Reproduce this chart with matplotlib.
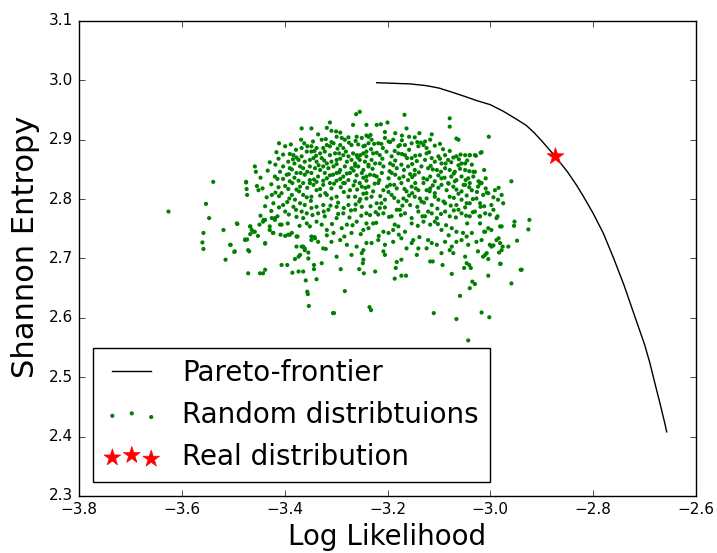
import numpy as np
import matplotlib
matplotlib.use("Agg")
import matplotlib.pyplot as plt

plt.style.use('classic')

# pareto frontier (log likelihood, entropy)
front_ll = [-3.221, -3.156, -3.124, -3.10, -3.078, -3.05, -3.027, -3.0, -2.975, -2.95, -2.93, -2.915, -2.90, -2.875,
            -2.85, -2.832, -2.82, -2.80, -2.78, -2.76, -2.74, -2.72, -2.70, -2.69, -2.68, -2.67, -2.66, -2.657]
front_ent = [2.996, 2.994, 2.991, 2.987, 2.981, 2.973, 2.966, 2.959, 2.948, 2.935, 2.924, 2.912, 2.898, 2.873,
             2.846, 2.823, 2.806, 2.776, 2.742, 2.700, 2.655, 2.605, 2.555, 2.525, 2.490, 2.456, 2.420, 2.408]

# the real distribution
real_ll = [-2.875]
real_ent = [2.873]

upper_pts = [
    (-3.261,2.943),(-3.254,2.947),(-3.312,2.929),(-3.267,2.925),(-3.367,2.919),(-3.348,2.919),(-3.318,2.920),(-3.309,2.915),(-3.300,2.914),(-3.241,2.925),
    (-3.368,2.900),(-3.328,2.900),(-3.320,2.901),(-3.309,2.896),(-3.299,2.905),(-3.289,2.903),(-3.283,2.900),(-3.276,2.904),(-3.260,2.905),(-3.250,2.903),(-3.241,2.907),
    (-3.411,2.894),(-3.399,2.889),(-3.367,2.886),(-3.356,2.889),(-3.348,2.889),(-3.338,2.886),(-3.325,2.886),(-3.312,2.889),(-3.292,2.891),(-3.286,2.886),(-3.270,2.891),(-3.257,2.892),(-3.247,2.889),(-3.237,2.894),
    (-3.416,2.879),(-3.390,2.876),(-3.383,2.874),(-3.377,2.870),(-3.367,2.872),(-3.357,2.880),(-3.348,2.880),(-3.331,2.877),(-3.322,2.880),(-3.312,2.874),(-3.302,2.877),(-3.286,2.874),(-3.276,2.872),(-3.267,2.877),(-3.260,2.874),(-3.247,2.877),(-3.241,2.872),
    (-3.412,2.868),(-3.393,2.863),(-3.373,2.866),(-3.361,2.863),(-3.351,2.866),(-3.338,2.863),(-3.328,2.869),(-3.318,2.860),(-3.309,2.863),(-3.299,2.866),(-3.279,2.863),(-3.270,2.866),(-3.263,2.860),(-3.254,2.866),(-3.244,2.863),
    (-3.429,2.862),(-3.458,2.855),(-3.403,2.855),(-3.390,2.852),(-3.370,2.855),(-3.364,2.852),(-3.351,2.855),(-3.341,2.852),(-3.325,2.855),(-3.315,2.852),(-3.305,2.855),(-3.292,2.849),(-3.283,2.855),(-3.270,2.852),(-3.257,2.855),(-3.247,2.849),(-3.237,2.855),
    (-3.456,2.846),(-3.409,2.846),(-3.396,2.841),(-3.377,2.844),(-3.361,2.841),(-3.348,2.844),(-3.335,2.838),(-3.322,2.844),(-3.312,2.840),(-3.299,2.844),(-3.286,2.838),(-3.273,2.844),(-3.260,2.840),(-3.250,2.844),(-3.241,2.838),
    (-3.447,2.836),(-3.419,2.838),(-3.403,2.834),(-3.390,2.830),(-3.373,2.831),(-3.364,2.827),(-3.351,2.832),(-3.338,2.829),(-3.325,2.831),(-3.312,2.827),(-3.299,2.831),(-3.286,2.827),(-3.276,2.832),(-3.263,2.830),(-3.254,2.827),(-3.241,2.831),(-3.475,2.829),
    (-3.167,2.942),(-3.079,2.936),(-3.079,2.922),(-3.003,2.905),(-3.221,2.925),(-3.213,2.926),(-3.200,2.929),(-3.163,2.919),(-3.185,2.911),(-3.158,2.905),(-3.147,2.904),(-3.114,2.909),(-3.127,2.897),(-3.117,2.900),(-3.066,2.902),(-3.062,2.900),
    (-3.237,2.905),(-3.231,2.900),(-3.218,2.894),(-3.205,2.903),(-3.198,2.897),(-3.189,2.900),(-3.179,2.889),(-3.166,2.891),(-3.153,2.894),(-3.140,2.889),(-3.130,2.891),(-3.124,2.886),(-3.101,2.872),(-3.088,2.874),(-3.072,2.870),(-3.066,2.872),(-3.049,2.874),(-3.040,2.874),(-3.030,2.874),(-3.017,2.879),
    (-3.241,2.880),(-3.228,2.877),(-3.215,2.874),(-3.202,2.880),(-3.192,2.872),(-3.179,2.877),(-3.166,2.874),(-3.153,2.869),(-3.137,2.874),(-3.127,2.866),(-3.114,2.869),(-3.108,2.863),(-3.095,2.860),(-3.082,2.866),(-3.056,2.860),(-3.036,2.858),
    (-3.237,2.858),(-3.224,2.860),(-3.208,2.855),(-3.195,2.860),(-3.182,2.852),(-3.173,2.858),(-3.160,2.855),(-3.147,2.849),(-3.134,2.855),(-3.121,2.852),(-3.104,2.849),(-3.088,2.852),(-3.079,2.849),(-3.069,2.846),(-3.049,2.849),(-3.030,2.846),
    (-3.234,2.841),(-3.221,2.838),(-3.211,2.844),(-3.198,2.835),(-3.185,2.841),(-3.169,2.838),(-3.160,2.832),(-3.147,2.841),(-3.130,2.835),(-3.117,2.838),(-3.108,2.830),(-3.095,2.835),(-3.082,2.827),(-3.066,2.832),(-3.056,2.838),(-3.043,2.835),(-3.033,2.838),(-3.020,2.828),(-3.040,2.827),(-3.069,2.830),
]

lower_pts = [
    (-3.475,2.828),(-3.454,2.822),(-3.474,2.817),(-3.451,2.815),(-3.473,2.807),(-3.425,2.807),(-3.406,2.810),(-3.399,2.822),(-3.393,2.817),(-3.386,2.807),(-3.380,2.799),(-3.370,2.821),(-3.364,2.807),(-3.351,2.827),(-3.348,2.804),(-3.338,2.815),(-3.325,2.824),(-3.318,2.807),(-3.309,2.818),(-3.299,2.804),(-3.283,2.827),(-3.273,2.815),(-3.263,2.804),(-3.250,2.821),(-3.241,2.810),
    (-3.422,2.793),(-3.403,2.790),(-3.399,2.779),(-3.383,2.787),(-3.370,2.793),(-3.367,2.779),(-3.357,2.776),(-3.348,2.785),(-3.335,2.776),(-3.325,2.790),(-3.315,2.782),(-3.299,2.787),(-3.286,2.776),(-3.276,2.790),(-3.263,2.782),(-3.250,2.787),(-3.241,2.776),
    (-3.493,2.759),(-3.467,2.754),(-3.461,2.745),(-3.441,2.765),(-3.425,2.768),(-3.419,2.765),(-3.409,2.757),(-3.429,2.748),(-3.422,2.743),(-3.393,2.740),(-3.386,2.743),(-3.377,2.737),(-3.364,2.768),(-3.357,2.759),(-3.351,2.754),(-3.338,2.762),(-3.328,2.757),(-3.318,2.748),(-3.305,2.743),(-3.299,2.768),(-3.289,2.751),(-3.279,2.757),(-3.270,2.743),(-3.260,2.762),(-3.247,2.748),(-3.241,2.759),
    (-3.506,2.723),(-3.497,2.712),(-3.477,2.731),(-3.471,2.714),(-3.438,2.726),(-3.377,2.720),(-3.367,2.720),(-3.361,2.714),(-3.348,2.731),(-3.335,2.728),(-3.325,2.717),(-3.309,2.728),(-3.292,2.731),(-3.279,2.723),(-3.260,2.720),(-3.247,2.714),(-3.241,2.726),
    (-3.373,2.703),(-3.354,2.700),(-3.299,2.703),(-3.270,2.706),(-3.250,2.709),
    (-3.237,2.821),(-3.228,2.813),(-3.218,2.827),(-3.208,2.815),(-3.195,2.824),(-3.182,2.818),(-3.173,2.827),(-3.163,2.813),(-3.153,2.821),(-3.140,2.815),(-3.130,2.827),(-3.117,2.818),(-3.108,2.810),(-3.095,2.824),(-3.085,2.815),(-3.072,2.821),(-3.056,2.813),(-3.049,2.824),(-3.036,2.815),(-3.024,2.821),(-3.017,2.827),(-3.004,2.810),(-2.991,2.815),(-2.978,2.807),
    (-3.241,2.801),(-3.231,2.804),(-3.221,2.793),(-3.205,2.799),(-3.192,2.807),(-3.179,2.796),(-3.169,2.801),(-3.156,2.790),(-3.147,2.804),(-3.134,2.796),(-3.124,2.801),(-3.114,2.790),(-3.101,2.799),(-3.088,2.793),(-3.079,2.804),(-3.066,2.790),(-3.056,2.799),(-3.040,2.793),(-3.027,2.801),(-3.014,2.807),(-2.998,2.790),(-2.985,2.799),(-2.975,2.793),
    (-3.234,2.773),(-3.215,2.785),(-3.208,2.776),(-3.192,2.771),(-3.182,2.782),(-3.166,2.776),(-3.153,2.768),(-3.140,2.779),(-3.127,2.771),(-3.114,2.776),(-3.104,2.768),(-3.088,2.779),(-3.079,2.771),(-3.062,2.782),(-3.056,2.776),(-3.040,2.771),(-3.030,2.779),(-3.020,2.771),(-3.010,2.776),(-2.988,2.768),
    (-3.237,2.751),(-3.228,2.759),(-3.208,2.745),(-3.198,2.743),(-3.189,2.748),(-3.179,2.754),(-3.166,2.745),(-3.153,2.759),(-3.130,2.762),(-3.117,2.757),(-3.108,2.762),(-3.095,2.748),(-3.075,2.751),(-3.066,2.745),(-3.053,2.743),(-3.036,2.743),(-3.020,2.759),(-3.010,2.745),(-2.998,2.748),(-2.978,2.754),
    (-3.231,2.726),(-3.218,2.731),(-3.205,2.723),(-3.189,2.728),(-3.173,2.734),(-3.153,2.726),(-3.150,2.731),(-3.140,2.717),(-3.121,2.731),(-3.114,2.726),(-3.104,2.723),(-3.088,2.728),(-3.075,2.720),(-3.066,2.728),(-3.056,2.731),(-3.043,2.723),(-3.027,2.728),(-3.017,2.731),(-3.001,2.723),(-2.988,2.731),(-2.981,2.726),
    (-3.208,2.712),(-3.205,2.706),(-3.163,2.717),(-3.143,2.706),(-3.124,2.717),(-3.095,2.709),(-3.079,2.714),(-3.072,2.709),(-3.049,2.703),(-3.024,2.712),(-3.010,2.706),(-2.998,2.720),(-2.978,2.714),
]

# extra points filling the crowded core
core_pts = [
    (-3.345,2.897),(-3.305,2.894),(-3.262,2.898),(-3.226,2.893),(-3.195,2.896),(-3.172,2.899),(-3.135,2.895),(-3.098,2.893),
    (-3.378,2.883),(-3.342,2.881),(-3.297,2.885),(-3.281,2.880),(-3.232,2.884),(-3.209,2.886),(-3.186,2.881),(-3.158,2.883),(-3.119,2.879),(-3.092,2.884),(-3.079,2.881),
    (-3.384,2.867),(-3.344,2.869),(-3.323,2.865),(-3.292,2.868),(-3.258,2.870),(-3.231,2.866),(-3.210,2.868),(-3.185,2.865),(-3.162,2.869),(-3.143,2.864),(-3.098,2.868),(-3.076,2.862),(-3.061,2.867),(-3.045,2.865),
    (-3.433,2.848),(-3.386,2.850),(-3.356,2.846),(-3.331,2.849),(-3.294,2.845),(-3.266,2.848),(-3.229,2.851),(-3.196,2.847),(-3.168,2.849),(-3.139,2.845),(-3.112,2.850),(-3.096,2.846),(-3.059,2.851),(-3.041,2.847),(-3.012,2.849),
    (-3.414,2.834),(-3.381,2.836),(-3.343,2.833),(-3.318,2.835),(-3.292,2.834),(-3.247,2.836),(-3.216,2.832),(-3.177,2.835),(-3.152,2.837),(-3.123,2.833),(-3.089,2.836),(-3.076,2.838),(-3.048,2.832),(-3.009,2.835),
    (-3.443,2.818),(-3.412,2.820),(-3.377,2.816),(-3.356,2.819),(-3.331,2.817),(-3.291,2.820),(-3.259,2.816),(-3.243,2.819),(-3.201,2.821),(-3.167,2.817),(-3.145,2.818),(-3.124,2.815),(-3.101,2.819),(-3.066,2.816),(-3.041,2.820),(-3.009,2.818),
    (-3.435,2.803),(-3.411,2.805),(-3.391,2.801),(-3.357,2.803),(-3.331,2.806),(-3.309,2.801),(-3.276,2.804),(-3.253,2.800),(-3.214,2.805),(-3.187,2.802),(-3.158,2.806),(-3.137,2.801),(-3.108,2.804),(-3.071,2.802),(-3.046,2.806),(-3.034,2.800),
    (-3.438,2.788),(-3.411,2.786),(-3.361,2.790),(-3.338,2.787),(-3.311,2.789),(-3.285,2.785),(-3.262,2.791),(-3.233,2.788),(-3.205,2.786),(-3.171,2.789),(-3.142,2.787),(-3.103,2.784),(-3.077,2.789),(-3.049,2.786),(-3.012,2.788),
    (-3.447,2.772),(-3.392,2.774),(-3.377,2.770),(-3.346,2.773),(-3.322,2.771),(-3.296,2.775),(-3.274,2.769),(-3.251,2.772),(-3.218,2.774),(-3.197,2.770),(-3.174,2.773),(-3.132,2.771),(-3.096,2.775),(-3.067,2.769),(-3.047,2.772),(-3.001,2.774),
    (-3.449,2.757),(-3.394,2.759),(-3.371,2.755),(-3.308,2.758),(-3.268,2.756),(-3.222,2.760),(-3.186,2.757),(-3.141,2.755),(-3.102,2.758),(-3.086,2.756),(-3.045,2.759),
    (-3.452,2.738),(-3.408,2.740),(-3.342,2.736),(-3.318,2.739),(-3.284,2.737),(-3.252,2.741),(-3.217,2.738),(-3.178,2.740),(-3.138,2.736),(-3.081,2.739),(-3.046,2.737),
    (-3.335,2.909),(-3.292,2.912),(-3.233,2.908),(-3.205,2.913),(-3.172,2.907),(-3.138,2.911),
    (-3.388,2.892),(-3.362,2.894),(-3.318,2.891),(-3.275,2.895),(-3.244,2.890),(-3.212,2.893),(-3.176,2.891),(-3.142,2.896),(-3.108,2.890),
    (-3.403,2.875),(-3.339,2.873),(-3.294,2.877),(-3.253,2.874),(-3.221,2.878),(-3.172,2.876),(-3.146,2.873),(-3.124,2.877),(-3.058,2.875),
    (-3.418,2.858),(-3.381,2.860),(-3.334,2.857),(-3.299,2.859),(-3.263,2.856),(-3.215,2.860),(-3.189,2.857),(-3.152,2.859),(-3.116,2.856),(-3.087,2.860),(-3.062,2.857),
    (-3.392,2.842),(-3.369,2.844),(-3.306,2.841),(-3.279,2.843),(-3.226,2.840),(-3.192,2.844),(-3.156,2.842),(-3.101,2.840),(-3.071,2.843),
    (-3.426,2.825),(-3.385,2.827),(-3.344,2.824),(-3.304,2.826),(-3.266,2.823),(-3.225,2.826),(-3.187,2.824),(-3.146,2.827),(-3.112,2.823),(-3.081,2.826),(-3.052,2.824),
    (-3.418,2.811),(-3.372,2.813),(-3.321,2.810),(-3.285,2.812),(-3.247,2.809),(-3.198,2.812),(-3.152,2.810),(-3.118,2.813),(-3.062,2.809),(-3.026,2.812),
    (-3.395,2.795),(-3.349,2.797),(-3.296,2.794),(-3.255,2.796),(-3.212,2.793),(-3.163,2.797),(-3.129,2.794),(-3.091,2.796),(-3.046,2.793),
    (-3.426,2.780),(-3.378,2.782),(-3.324,2.779),(-3.271,2.781),(-3.223,2.778),(-3.176,2.782),(-3.121,2.779),(-3.071,2.781),(-3.034,2.778),
]

# sparse points at the edges of the cloud
edge_pts = [
    (-3.626,2.779),(-3.553,2.792),(-3.539,2.829),(-3.547,2.768),
    (-3.558,2.743),(-3.560,2.727),(-3.558,2.716),(-3.519,2.748),(-3.505,2.723),(-3.498,2.711),(-3.515,2.698),(-3.492,2.758),(-3.471,2.675),
    (-3.467,2.754),(-3.464,2.748),(-3.467,2.741),(-3.458,2.745),(-3.477,2.732),(-3.473,2.732),(-3.469,2.712),(-3.448,2.675),(-3.442,2.675),(-3.438,2.681),
    (-3.442,2.762),(-3.438,2.765),(-3.438,2.725),(-3.429,2.754),(-3.423,2.743),(-3.419,2.768),(-3.414,2.771),(-3.406,2.757),(-3.399,2.738),(-3.390,2.740),
    (-3.406,2.689),(-3.395,2.689),(-3.385,2.676),(-3.373,2.678),(-3.375,2.737),(-3.380,2.699),(-3.370,2.706),(-3.364,2.720),(-3.361,2.717),(-3.354,2.710),
    (-3.364,2.678),(-3.359,2.663),(-3.356,2.644),(-3.355,2.640),(-3.353,2.620),(-3.343,2.682),(-3.343,2.689),(-3.338,2.665),(-3.328,2.692),(-3.320,2.716),
    (-3.306,2.608),(-3.348,2.737),(-3.341,2.734),
    (-3.291,2.682),(-3.283,2.645),(-3.304,2.608),(-3.247,2.698),(-3.248,2.692),(-3.246,2.675),(-3.255,2.682),(-3.224,2.678),(-3.235,2.618),(-3.232,2.613),
    (-3.184,2.684),(-3.186,2.666),(-3.173,2.671),(-3.164,2.671),(-3.182,2.694),(-3.173,2.698),(-3.117,2.695),(-3.112,2.695),(-3.093,2.689),(-3.075,2.674),
    (-3.110,2.608),(-3.059,2.637),(-3.066,2.598),(-3.043,2.562),(-3.051,2.684),(-3.046,2.692),(-3.041,2.689),(-3.038,2.684),(-3.035,2.661),(-3.030,2.657),
    (-3.040,2.650),(-3.017,2.609),(-3.002,2.601),(-3.004,2.671),(-2.959,2.658),(-2.939,2.681),(-2.980,2.691),(-3.007,2.709),(-3.004,2.699),(-3.014,2.703),
    (-2.959,2.830),(-2.984,2.819),(-2.994,2.803),(-2.994,2.782),(-2.986,2.771),(-2.953,2.762),(-2.954,2.755),(-2.924,2.765),(-2.926,2.749),
    (-2.981,2.754),(-2.948,2.730),(-2.965,2.720),(-2.976,2.720),(-2.984,2.734),(-2.983,2.710),(-2.994,2.722),(-2.981,2.691),(-2.941,2.681),
    (-3.040,2.874),(-3.028,2.873),(-3.019,2.878),(-3.033,2.846),(-3.049,2.860),(-3.023,2.830),(-3.020,2.826),(-3.007,2.811),(-3.020,2.793),(-3.019,2.787),
    (-3.021,2.771),(-3.012,2.745),(-3.004,2.751),
]

all_pts = np.array(upper_pts + lower_pts + core_pts + edge_pts)
rand_ll = all_pts[:, 0]
rand_ent = all_pts[:, 1]

fig = plt.figure(figsize=(7.17, 5.53), dpi=100, facecolor='white')
ax = fig.add_axes([0.1102, 0.1031, 0.8605, 0.859])

ax.plot(front_ll, front_ent, color='k', lw=1.0, label='Pareto-frontier')
ax.scatter(rand_ll, rand_ent, s=9, c='g', edgecolors='none', label='Random distribtuions')
ax.scatter(real_ll, real_ent, s=160, c='r', marker='*', edgecolors='r', lw=0.5, label='Real distribution', zorder=3)

ax.set_xlim(-3.8, -2.6)
ax.set_ylim(2.3, 3.1)
ax.set_xticks(np.arange(-3.8, -2.59, 0.2))
ax.set_yticks(np.arange(2.3, 3.11, 0.1))
ax.tick_params(labelsize=11)
ax.set_xlabel('Log Likelihood', fontsize=20)
ax.set_ylabel('Shannon Entropy', fontsize=22)
ax.yaxis.set_label_coords(-0.064, 0.525)

leg = ax.legend(loc='lower left', fontsize=20, handlelength=2.0, handletextpad=0.8,
                labelspacing=0.5, scatterpoints=3, scatteryoffsets=[0.375, 0.5, 0.3125])

fig.savefig('out.png', dpi=100, facecolor='white')
